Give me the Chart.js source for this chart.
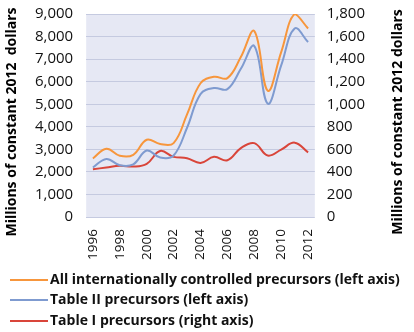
<!DOCTYPE html>
<html lang="en">
<head>
    <meta charset="UTF-8">
    <title>Precursors</title>
    <script src="https://cdn.jsdelivr.net/npm/chart.js"></script>
    <style>
        body { margin: 0; background: #fff; }
        #wrap { width: 414px; height: 332px; }
    </style>
</head>
<body>
<div id="wrap"><canvas id="graph"></canvas></div>
<script>
    const years = ['1996', '1997', '1998', '1999', '2000', '2001', '2002', '2003', '2004',
        '2005', '2006', '2007', '2008', '2009', '2010', '2011', '2012'];
    const all_precursors = [2600, 3030, 2720, 2760, 3430, 3240, 3280, 4550, 5930,
        6220, 6160, 7090, 8240, 5600, 7310, 9000, 8360];
    const table2 = [2200, 2580, 2300, 2340, 2950, 2640, 2730, 3960, 5450,
        5720, 5670, 6570, 7580, 5030, 6720, 8360, 7760];
    const table1 = [424, 440, 456, 448, 472, 586, 534, 522, 480,
        534, 504, 612, 656, 546, 598, 660, 574];

    const font = "'Open Sans', sans-serif";

    // tick padding also pushes the plot down, so trim it back
    function trimTop(scale) {
        scale.paddingTop = 14;
    }

    // plot background + both axis titles (reading upwards) + legend rows
    const extras = {
        id: 'extras',
        beforeDraw(chart) {
            const a = chart.chartArea;
            const ctx = chart.ctx;
            ctx.save();
            ctx.fillStyle = '#e6e8f4';
            ctx.fillRect(a.left, a.top, a.right - a.left, a.bottom - a.top);
            ctx.restore();
        },
        afterDraw(chart) {
            const ctx = chart.ctx;
            ctx.save();
            ctx.fillStyle = '#000';
            ctx.font = 'bold 14px ' + font;
            ctx.textAlign = 'center';
            ctx.textBaseline = 'middle';
            [[12, 'Millions of constant 2012  dollars'], [398, 'Millions of constant 2012 dollars']].forEach(t => {
                ctx.save();
                ctx.translate(t[0], 122);
                ctx.rotate(-Math.PI / 2);
                ctx.fillText(t[1], 0, 0);
                ctx.restore();
            });

            const rows = [280, 300, 321];
            ctx.textAlign = 'left';
            ctx.fillStyle = '#111';
            chart.data.datasets.forEach((ds, i) => {
                ctx.strokeStyle = ds.borderColor;
                ctx.lineWidth = 2;
                ctx.beginPath();
                ctx.moveTo(10, rows[i]);
                ctx.lineTo(48, rows[i]);
                ctx.stroke();
                ctx.fillText(ds.label, 50, rows[i]);
            });
            ctx.restore();
        }
    };

    new Chart(document.getElementById('graph'), {
        type: 'line',
        data: {
            labels: years,
            datasets: [
                {
                    label: 'All internationally controlled precursors (left axis)',
                    data: all_precursors,
                    borderColor: '#f7963c',
                    borderWidth: 2,
                    yAxisID: 'y',
                },
                {
                    label: 'Table II precursors (left axis)',
                    data: table2,
                    borderColor: '#7f9bd0',
                    borderWidth: 2,
                    yAxisID: 'y',
                },
                {
                    label: 'Table I precursors (right axis)',
                    data: table1,
                    borderColor: '#d9453a',
                    borderWidth: 2,
                    yAxisID: 'y1',
                },
            ],
        },
        options: {
            responsive: true,
            maintainAspectRatio: false,
            animation: false,
            layout: { padding: { left: 22, right: 37, top: 0, bottom: 68 } },
            elements: {
                point: { radius: 0 },
                line: { tension: 0.4, fill: false },
            },
            plugins: {
                legend: { display: false },
                tooltip: { enabled: false },
            },
            scales: {
                x: {
                    offset: true,
                    grid: { display: false },
                    border: { display: false },
                    ticks: {
                        autoSkip: false,
                        minRotation: 90,
                        maxRotation: 90,
                        padding: 4,
                        color: '#111',
                        font: { family: font, size: 13.5 },
                        callback: function (v, i) {
                            return i % 2 === 0 ? years[i] : '';
                        },
                    },
                },
                y: {
                    position: 'left',
                    min: 0,
                    max: 9000,
                    afterFit: trimTop,
                    grid: { color: '#c5cae0', drawTicks: false },
                    border: { display: false },
                    ticks: {
                        stepSize: 1000,
                        autoSkip: false,
                        padding: 13,
                        color: '#111',
                        font: { family: font, size: 15 },
                        callback: v => v.toLocaleString('en-US'),
                    },
                },
                y1: {
                    position: 'right',
                    min: 0,
                    max: 1800,
                    afterFit: trimTop,
                    grid: { display: false, drawTicks: false },
                    border: { display: false },
                    ticks: {
                        stepSize: 200,
                        autoSkip: false,
                        padding: 12,
                        color: '#111',
                        font: { family: font, size: 15 },
                        callback: v => v.toLocaleString('en-US'),
                    },
                },
            },
        },
        plugins: [extras],
    });
</script>
</body>
</html>
